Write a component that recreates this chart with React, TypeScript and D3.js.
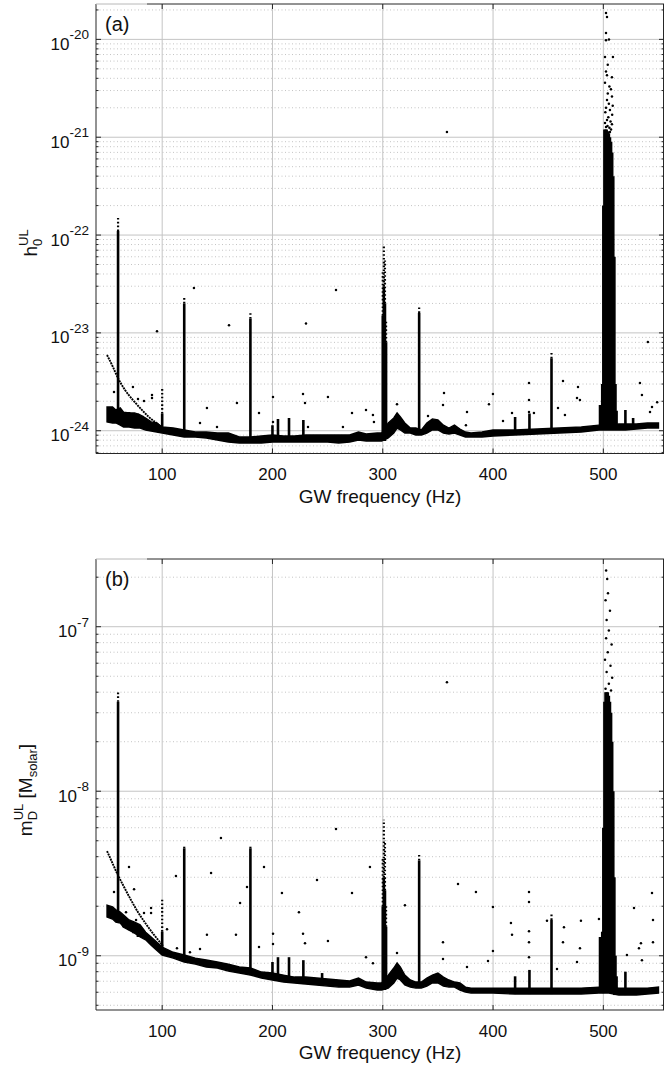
import React from 'react';
import * as d3 from 'd3';

const FONT = '"Liberation Sans", Arial, Helvetica, sans-serif';
const W = 664;
const H = 1067;
const LEFT = 96;
const RIGHT = 664;

const freqDomain = [40, 555];
const xTicks = [100, 200, 300, 400, 500];
const tickExpA = [-24, -23, -22, -21, -20];
const tickExpB = [-9, -8, -7];

// baseline band of the upper limits, sampled at these frequencies (Hz)
const baseFreq = [50, 55, 58, 62, 65, 70, 75, 80, 85, 90, 95, 100, 110, 120, 130, 140, 150, 160, 170, 180, 190, 200, 210, 220, 230, 240, 250, 260, 270, 278, 285, 295, 299, 305, 310, 313, 316, 320, 325, 330, 335, 340, 345, 350, 355, 360, 365, 370, 375, 380, 390, 400, 420, 440, 460, 480, 496, 505, 514, 520, 530, 540, 550];

const h0High = [1.75e-24, 1.75e-24, 1.63e-24, 1.71e-24, 1.55e-24, 1.52e-24, 1.52e-24, 1.45e-24, 1.35e-24, 1.23e-24, 1.2e-24, 1.09e-24, 1.065e-24, 1.017e-24, 0.97e-24, 0.97e-24, 0.947e-24, 0.947e-24, 0.862e-24, 0.862e-24, 0.883e-24, 0.904e-24, 0.883e-24, 0.883e-24, 0.904e-24, 0.904e-24, 0.904e-24, 0.904e-24, 0.904e-24, 0.97e-24, 0.925e-24, 0.947e-24, 0.947e-24, 1.2e-24, 1.35e-24, 1.52e-24, 1.38e-24, 1.2e-24, 1.065e-24, 1.065e-24, 1.017e-24, 1.2e-24, 1.32e-24, 1.29e-24, 1.14e-24, 1.065e-24, 1.14e-24, 1.04e-24, 0.97e-24, 0.947e-24, 0.97e-24, 1.017e-24, 1.017e-24, 1.04e-24, 1.065e-24, 1.09e-24, 1.14e-24, 1.14e-24, 1.17e-24, 1.17e-24, 1.17e-24, 1.2e-24, 1.2e-24];
const h0Low = [1.23e-24, 1.2e-24, 1.2e-24, 1.14e-24, 1.09e-24, 1.09e-24, 1.065e-24, 1.065e-24, 1.017e-24, 0.993e-24, 0.97e-24, 0.947e-24, 0.904e-24, 0.862e-24, 0.862e-24, 0.842e-24, 0.804e-24, 0.767e-24, 0.749e-24, 0.749e-24, 0.749e-24, 0.767e-24, 0.767e-24, 0.767e-24, 0.767e-24, 0.767e-24, 0.767e-24, 0.749e-24, 0.767e-24, 0.804e-24, 0.785e-24, 0.785e-24, 0.785e-24, 0.842e-24, 0.947e-24, 1.065e-24, 1.017e-24, 0.947e-24, 0.947e-24, 0.904e-24, 0.904e-24, 0.947e-24, 1.017e-24, 1.017e-24, 0.947e-24, 0.925e-24, 0.947e-24, 0.904e-24, 0.862e-24, 0.862e-24, 0.862e-24, 0.883e-24, 0.904e-24, 0.925e-24, 0.947e-24, 0.97e-24, 1.017e-24, 1.017e-24, 1.017e-24, 1.017e-24, 1.04e-24, 1.065e-24, 1.065e-24];

const mdHigh = [2.03e-9, 1.98e-9, 1.9e-9, 1.84e-9, 1.77e-9, 1.65e-9, 1.6e-9, 1.54e-9, 1.39e-9, 1.3e-9, 1.21e-9, 1.13e-9, 1.05e-9, 1.01e-9, 0.968e-9, 0.942e-9, 0.916e-9, 0.89e-9, 0.854e-9, 0.842e-9, 0.796e-9, 0.785e-9, 0.763e-9, 0.742e-9, 0.742e-9, 0.732e-9, 0.722e-9, 0.712e-9, 0.702e-9, 0.732e-9, 0.692e-9, 0.683e-9, 0.683e-9, 0.763e-9, 0.842e-9, 0.903e-9, 0.854e-9, 0.763e-9, 0.712e-9, 0.692e-9, 0.692e-9, 0.732e-9, 0.763e-9, 0.785e-9, 0.742e-9, 0.712e-9, 0.692e-9, 0.683e-9, 0.645e-9, 0.636e-9, 0.636e-9, 0.636e-9, 0.636e-9, 0.636e-9, 0.636e-9, 0.636e-9, 0.645e-9, 0.645e-9, 0.636e-9, 0.636e-9, 0.636e-9, 0.636e-9, 0.645e-9];
const mdLow = [1.72e-9, 1.67e-9, 1.6e-9, 1.58e-9, 1.49e-9, 1.43e-9, 1.37e-9, 1.3e-9, 1.25e-9, 1.16e-9, 1.08e-9, 1.01e-9, 0.968e-9, 0.916e-9, 0.89e-9, 0.854e-9, 0.842e-9, 0.807e-9, 0.785e-9, 0.763e-9, 0.732e-9, 0.712e-9, 0.692e-9, 0.683e-9, 0.673e-9, 0.664e-9, 0.654e-9, 0.645e-9, 0.645e-9, 0.664e-9, 0.636e-9, 0.619e-9, 0.619e-9, 0.636e-9, 0.683e-9, 0.732e-9, 0.712e-9, 0.664e-9, 0.645e-9, 0.636e-9, 0.636e-9, 0.654e-9, 0.683e-9, 0.683e-9, 0.654e-9, 0.645e-9, 0.645e-9, 0.619e-9, 0.602e-9, 0.593e-9, 0.593e-9, 0.593e-9, 0.585e-9, 0.585e-9, 0.585e-9, 0.585e-9, 0.593e-9, 0.593e-9, 0.577e-9, 0.577e-9, 0.577e-9, 0.585e-9, 0.593e-9];

// spectral lines: frequency, highest point, top of the dense part
const h0SpikeFreq = [60, 65, 70, 74, 78, 82, 100, 120, 180, 200, 205, 215, 228, 300, 301, 302, 303, 333, 420, 433, 453, 497, 499, 500, 501, 502, 503, 504, 505, 506, 507, 508, 509, 510, 511, 512, 520, 527];
const h0SpikeTop = [1.49e-22, 1.5e-24, 1.55e-24, 1.52e-24, 1.5e-24, 1.42e-24, 2.8e-24, 2.38e-23, 1.63e-23, 1.14e-24, 1.32e-24, 1.35e-24, 1.29e-24, 4.4e-23, 7.9e-23, 5.5e-23, 1.35e-23, 1.87e-23, 1.38e-24, 1.5e-24, 6.4e-24, 1.83e-24, 3e-24, 2e-22, 1.2e-21, 1.2e-21, 1.2e-21, 1.15e-21, 1.1e-21, 1e-21, 9e-22, 7e-22, 4e-22, 6e-23, 3e-24, 1.6e-24, 1.63e-24, 1.35e-24];
const h0SpikeSolid = [1.1e-22, 1.5e-24, 1.55e-24, 1.52e-24, 1.5e-24, 1.42e-24, 1.5e-24, 2e-23, 1.4e-23, 1.14e-24, 1.32e-24, 1.35e-24, 1.29e-24, 1.5e-23, 3e-23, 2e-23, 8e-24, 1.6e-23, 1.38e-24, 1.5e-24, 5.5e-24, 1.83e-24, 3e-24, 2e-22, 1.2e-21, 1.2e-21, 1.2e-21, 1.15e-21, 1.1e-21, 1e-21, 9e-22, 7e-22, 4e-22, 6e-23, 3e-24, 1.6e-24, 1.63e-24, 1.35e-24];

const mdSpikeFreq = [60, 65, 70, 74, 78, 82, 100, 120, 180, 200, 205, 215, 228, 245, 300, 301, 302, 303, 333, 420, 433, 453, 497, 499, 500, 501, 502, 503, 504, 505, 506, 507, 508, 509, 510, 511, 512, 520];
const mdSpikeTop = [4.1e-8, 1.65e-9, 1.62e-9, 1.55e-9, 1.45e-9, 1.35e-9, 2.2e-9, 4.72e-9, 4.7e-9, 0.916e-9, 0.98e-9, 0.98e-9, 0.94e-9, 0.785e-9, 4e-9, 6.7e-9, 5e-9, 2e-9, 4.1e-9, 0.75e-9, 0.82e-9, 1.82e-9, 1.3e-9, 1.4e-9, 6e-9, 3.5e-8, 4e-8, 4e-8, 4e-8, 3.8e-8, 3.5e-8, 3e-8, 2e-8, 1e-8, 3e-9, 1e-9, 0.75e-9, 0.8e-9];
const mdSpikeSolid = [3.5e-8, 1.65e-9, 1.62e-9, 1.55e-9, 1.45e-9, 1.35e-9, 1.4e-9, 4.5e-9, 4.5e-9, 0.916e-9, 0.98e-9, 0.98e-9, 0.94e-9, 0.785e-9, 2e-9, 3e-9, 2.5e-9, 1.5e-9, 3.8e-9, 0.75e-9, 0.82e-9, 1.65e-9, 1.3e-9, 1.4e-9, 6e-9, 3.5e-8, 4e-8, 4e-8, 4e-8, 3.8e-8, 3.5e-8, 3e-8, 2e-8, 1e-8, 3e-9, 1e-9, 0.75e-9, 0.8e-9];

// isolated points
const h0DotFreq = [56.3, 73.5, 78.1, 83.5, 90.8, 90.8, 140.6, 134.3, 167.8, 187.8, 200.5, 200.5, 227.7, 229.5, 232.2, 250.3, 149.7, 263.9, 272.1, 284.8, 291.1, 292, 312.9, 341, 355.5, 354.6, 376.4, 375.4, 399.9, 396.3, 409, 417.2, 432.6, 432.6, 432.6, 437.1, 463.4, 458.9, 465.2, 477, 476.1, 478.8, 533.2, 535, 544.1, 542.3, 548.8, 95.3, 128.8, 160.6, 230.4, 257.6, 358.2, 540.4,
  502.4, 503.3, 502.4, 505.1, 502.4, 501.5, 508.7, 502.4, 503.3, 507.8, 501.5, 506.9, 507.8, 503.3, 502.4, 506, 503.3, 507.8, 502.4, 506, 504, 505, 501.8, 508, 504.5, 506.5, 503.8, 505.5, 507, 501.5, 508.5, 504, 505.5];
const h0DotVal = [2.49e-24, 2.8e-24, 2.11e-24, 2.01e-24, 2.32e-24, 2.16e-24, 1.71e-24, 1.2e-24, 1.92e-24, 1.52e-24, 2.21e-24, 1.23e-24, 2.37e-24, 1.92e-24, 1.09e-24, 2.21e-24, 1.09e-24, 1.09e-24, 1.52e-24, 1.63e-24, 1.45e-24, 1.23e-24, 1.87e-24, 1.41e-24, 2.43e-24, 1.83e-24, 1.55e-24, 1.14e-24, 2.37e-24, 1.87e-24, 1.26e-24, 1.52e-24, 3.07e-24, 2.06e-24, 1.55e-24, 1.52e-24, 3.22e-24, 1.71e-24, 1.45e-24, 2.8e-24, 2.16e-24, 2.06e-24, 3.07e-24, 2.32e-24, 1.75e-24, 1.55e-24, 1.96e-24, 1.04e-23, 2.87e-23, 1.2e-23, 1.25e-23, 2.74e-23, 1.13e-21, 8.06e-24,
  1.86e-20, 1.69e-20, 1.16e-20, 1.0e-20, 9.8e-21, 6.6e-21, 6.6e-21, 4.7e-21, 4.3e-21, 4.1e-21, 3.6e-21, 3.1e-21, 2.6e-21, 2.4e-21, 2.0e-21, 1.9e-21, 1.5e-21, 1.36e-21, 1.27e-21, 1.13e-21, 2.8e-21, 2.2e-21, 1.8e-21, 1.7e-21, 1.6e-21, 1.45e-21, 1.3e-21, 1.25e-21, 1.2e-21, 1.4e-21, 2.1e-21, 5.5e-21, 3.3e-21];

const mdDotFreq = [69.9, 74.5, 56.3, 67.2, 76.3, 89.9, 89.9, 83.5, 112.5, 104.4, 144.3, 170.6, 176.9, 192.3, 208.6, 166.9, 140.6, 134.3, 125.2, 113.4, 200.5, 200.5, 187.8, 224, 227.7, 229.5, 240.4, 250.3,
  288.4, 272.1, 368.2, 384.5, 320.1, 354.6, 354.6, 284.8, 291.1, 312.9, 399.9, 399.9, 395.4, 376.4, 416.2, 417.2, 432.6, 432.6, 432.6, 432.6, 432.6, 448.9, 464.3, 463.4, 479.7, 478.8, 476.1, 496, 544.1, 545, 545, 527.8, 534.1, 532.3, 535, 521.4, 458, 358.2, 153.3, 257.6,
  502.5, 503.5, 504.2, 502, 506, 503, 505, 502.5, 507.5, 504, 501.5, 506.5, 503, 508, 505, 502, 507];
const mdDotVal = [3.46e-9, 2.54e-9, 2.44e-9, 1.84e-9, 1.65e-9, 1.95e-9, 1.82e-9, 1.82e-9, 3.05e-9, 1.45e-9, 3.18e-9, 2.09e-9, 2.62e-9, 3.46e-9, 2.41e-9, 1.34e-9, 1.34e-9, 1.1e-9, 1.05e-9, 1.11e-9, 1.36e-9, 1.18e-9, 1.13e-9, 1.84e-9, 1.36e-9, 1.19e-9, 2.89e-9, 1.23e-9,
  3.46e-9, 2.41e-9, 2.73e-9, 2.44e-9, 2.03e-9, 1.21e-9, 0.955e-9, 0.98e-9, 0.9e-9, 1.04e-9, 1.98e-9, 1.07e-9, 0.93e-9, 0.854e-9, 1.58e-9, 1.34e-9, 2.44e-9, 2.12e-9, 1.41e-9, 1.21e-9, 0.98e-9, 1.63e-9, 1.49e-9, 1.21e-9, 1.63e-9, 1.11e-9, 0.916e-9, 1.67e-9, 2.41e-9, 1.65e-9, 1.21e-9, 1.95e-9, 1.19e-9, 1.11e-9, 0.94e-9, 1.01e-9, 0.83e-9, 4.6e-8, 5.2e-9, 5.9e-9,
  2.2e-7, 1.95e-7, 1.6e-7, 1.45e-7, 1.25e-7, 1.1e-7, 9.5e-8, 8.5e-8, 7.8e-8, 7e-8, 6.3e-8, 5.8e-8, 5.3e-8, 4.9e-8, 4.5e-8, 4.2e-8, 4.1e-8];

// thin falling trace at low frequency
const h0CurveFreq = [50, 55.4, 59.9, 66.3, 73.5, 79.9, 87.1, 93.5, 100.7];
const h0CurveVal = [5.94e-24, 4.48e-24, 3.46e-24, 2.61e-24, 2.06e-24, 1.71e-24, 1.41e-24, 1.23e-24, 1.065e-24];
const mdCurveFreq = [50, 54.5, 59, 64.5, 70.8, 78.1, 85.3, 92.6, 100.7];
const mdCurveVal = [4.33e-9, 3.71e-9, 3.18e-9, 2.69e-9, 2.24e-9, 1.84e-9, 1.56e-9, 1.34e-9, 1.15e-9];

type PanelProps = {
  id: string;
  top: number;
  bottom: number;
  yDomain: [number, number];
  tickExp: number[];
  high: number[];
  low: number[];
  spikeFreq: number[];
  spikeTop: number[];
  spikeSolid: number[];
  dotFreq: number[];
  dotVal: number[];
  curveFreq: number[];
  curveVal: number[];
  tag: string;
  yLabel: React.ReactNode;
};

function Panel(p: PanelProps) {
  const x = d3.scaleLinear().domain(freqDomain).range([LEFT, RIGHT]);
  const y = d3.scaleLog().domain(p.yDomain).range([p.bottom, p.top]);

  const lo = Math.floor(Math.log10(p.yDomain[0]));
  const hi = Math.ceil(Math.log10(p.yDomain[1]));
  const minors: number[] = [];
  for (let e = lo; e < hi; e++) {
    for (let k = 2; k <= 9; k++) {
      const v = k * Math.pow(10, e);
      if (v > p.yDomain[0] && v < p.yDomain[1]) minors.push(v);
    }
  }
  const majors = p.tickExp.map((e) => Math.pow(10, e));

  const band = d3
    .area<number>()
    .x((d, i) => x(baseFreq[i]))
    .y0((d, i) => y(p.low[i]))
    .y1((d, i) => y(p.high[i]));

  const curve = d3
    .line<number>()
    .x((d, i) => x(p.curveFreq[i]))
    .y((d) => y(d))
    .curve(d3.curveMonotoneX);

  const baseAt = (f: number) => {
    const i = d3.minIndex(baseFreq, (b) => Math.abs(b - f));
    return p.low[i];
  };

  const axisColor = '#262626';
  const gridColor = '#c4c4c4';

  return (
    <g>
      <defs>
        <clipPath id={`clip-${p.id}`}>
          <rect x={LEFT} y={p.top} width={RIGHT - LEFT} height={p.bottom - p.top} />
        </clipPath>
      </defs>
      <rect x={LEFT} y={p.top} width={RIGHT - LEFT} height={p.bottom - p.top} fill="#fff" />
      {/* grid */}
      {minors.map((v) => (
        <line key={`mn${v}`} x1={LEFT} x2={RIGHT} y1={y(v)} y2={y(v)} stroke={gridColor} strokeWidth={1} strokeDasharray="1 2.5" />
      ))}
      {majors.map((v) => (
        <line key={`mj${v}`} x1={LEFT} x2={RIGHT} y1={y(v)} y2={y(v)} stroke={gridColor} strokeWidth={1} />
      ))}
      {xTicks.map((t) => (
        <line key={`xg${t}`} x1={x(t)} x2={x(t)} y1={p.top} y2={p.bottom} stroke={gridColor} strokeWidth={1} />
      ))}

      <g clipPath={`url(#clip-${p.id})`}>
        <path d={band(p.high) || ''} fill="#000" stroke="#000" strokeWidth={1.4} />
        {p.spikeFreq.map((f, i) => (
          <g key={`sp${i}`}>
            <line x1={x(f)} x2={x(f)} y1={y(baseAt(f))} y2={y(p.spikeSolid[i])} stroke="#000" strokeWidth={2.6} />
            {p.spikeTop[i] > p.spikeSolid[i] && (
              <line x1={x(f)} x2={x(f)} y1={y(p.spikeSolid[i])} y2={y(p.spikeTop[i])} stroke="#000" strokeWidth={2.2} strokeDasharray="1.6 2.2" />
            )}
          </g>
        ))}
        <path d={curve(p.curveVal) || ''} fill="none" stroke="#000" strokeWidth={1.9} strokeDasharray="2 0.8" />
        {p.dotFreq.map((f, i) => (
          <circle key={`dt${i}`} cx={x(f)} cy={y(p.dotVal[i])} r={1.25} fill="#000" />
        ))}
      </g>

      {/* axes box */}
      <line x1={LEFT} x2={LEFT} y1={p.top} y2={p.bottom} stroke={axisColor} />
      <line x1={RIGHT - 0.5} x2={RIGHT - 0.5} y1={p.top} y2={p.bottom} stroke={axisColor} />
      <line x1={LEFT} x2={RIGHT} y1={p.bottom} y2={p.bottom} stroke={axisColor} />
      <line x1={147} x2={RIGHT} y1={p.top} y2={p.top} stroke={axisColor} />
      <line x1={LEFT} x2={147} y1={p.top} y2={p.top} stroke="#b8b8b8" />

      {majors.map((v) => (
        <g key={`yt${v}`}>
          <line x1={LEFT} x2={LEFT + 5} y1={y(v)} y2={y(v)} stroke={axisColor} />
          <line x1={RIGHT} x2={RIGHT - 5} y1={y(v)} y2={y(v)} stroke={axisColor} />
        </g>
      ))}
      {minors.map((v) => (
        <g key={`ym${v}`}>
          <line x1={LEFT} x2={LEFT + 2.5} y1={y(v)} y2={y(v)} stroke={axisColor} />
          <line x1={RIGHT} x2={RIGHT - 2.5} y1={y(v)} y2={y(v)} stroke={axisColor} />
        </g>
      ))}
      {xTicks.map((t) => (
        <g key={`xt${t}`}>
          <line x1={x(t)} x2={x(t)} y1={p.bottom} y2={p.bottom - 5} stroke={axisColor} />
          <line x1={x(t)} x2={x(t)} y1={p.top} y2={p.top + 5} stroke={axisColor} />
          <text x={x(t)} y={p.bottom + 26.5} textAnchor="middle" fontSize={17} fill="#111">
            {t}
          </text>
        </g>
      ))}
      {p.tickExp.map((e) => (
        <text key={`yl${e}`} x={89} y={y(Math.pow(10, e)) + 10.5} textAnchor="end" fontSize={17} fill="#111">
          10
          <tspan dy={-10.5} fontSize={13.5}>
            {String(e)}
          </tspan>
        </text>
      ))}

      <text x={(LEFT + RIGHT) / 2} y={p.bottom + 49} textAnchor="middle" fontSize={19} fill="#111">
        GW frequency (Hz)
      </text>
      <text x={105} y={p.top + 27} fontSize={20} fill="#111">
        {p.tag}
      </text>
      {p.yLabel}
    </g>
  );
}

export default function App() {
  const labelA = (
    <text transform="translate(37,243) rotate(-90)" textAnchor="middle" fontSize={19} fill="#111">
      h
      <tspan fontSize={13} dy={5}>
        0
      </tspan>
      <tspan fontSize={13} dx={-7.2} dy={-14}>
        UL
      </tspan>
    </text>
  );
  const labelB = (
    <text transform="translate(32,790) rotate(-90)" textAnchor="middle" fontSize={19} fill="#111">
      m
      <tspan fontSize={13} dy={5}>
        D
      </tspan>
      <tspan fontSize={13} dx={-9.4} dy={-14}>
        UL
      </tspan>
      <tspan fontSize={19} dy={9}>
        {' [M'}
      </tspan>
      <tspan fontSize={13} dy={5}>
        solar
      </tspan>
      <tspan fontSize={19} dy={-5}>
        ]
      </tspan>
    </text>
  );

  return (
    <svg width={W} height={H} style={{ position: 'absolute', left: 0, top: 0, background: '#fff' }} fontFamily={FONT}>
      <rect width={W} height={H} fill="#fff" />
      <Panel
        id="a"
        top={4}
        bottom={453.5}
        yDomain={[5.85e-25, 2.3e-20]}
        tickExp={tickExpA}
        high={h0High}
        low={h0Low}
        spikeFreq={h0SpikeFreq}
        spikeTop={h0SpikeTop}
        spikeSolid={h0SpikeSolid}
        dotFreq={h0DotFreq}
        dotVal={h0DotVal}
        curveFreq={h0CurveFreq}
        curveVal={h0CurveVal}
        tag="(a)"
        yLabel={labelA}
      />
      <Panel
        id="b"
        top={559}
        bottom={1010}
        yDomain={[4.68e-10, 2.58e-7]}
        tickExp={tickExpB}
        high={mdHigh}
        low={mdLow}
        spikeFreq={mdSpikeFreq}
        spikeTop={mdSpikeTop}
        spikeSolid={mdSpikeSolid}
        dotFreq={mdDotFreq}
        dotVal={mdDotVal}
        curveFreq={mdCurveFreq}
        curveVal={mdCurveVal}
        tag="(b)"
        yLabel={labelB}
      />
    </svg>
  );
}
